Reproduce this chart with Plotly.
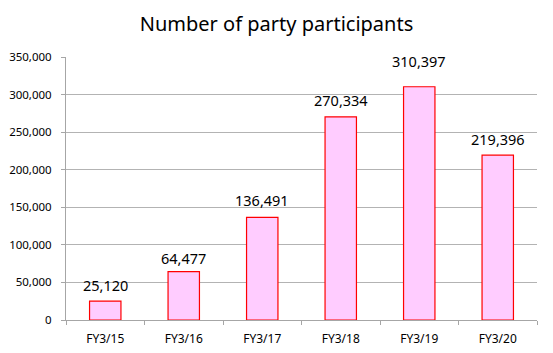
import plotly.graph_objects as go

categories = ["FY3/15", "FY3/16", "FY3/17", "FY3/18", "FY3/19", "FY3/20"]
participants = [25120, 64477, 136491, 270334, 310397, 219396]
tick_vals = [0, 50000, 100000, 150000, 200000, 250000, 300000, 350000]
tick_text = ["0", "50,000", "100,000", "150,000", "200,000", "250,000", "300,000", "350,000"]
# extra pixel lift of each value label above its bar (style)
label_lift = [4, 2, 5, 5, 14, 4]

fig = go.Figure(go.Bar(
    x=categories,
    y=participants,
    width=0.4,
    marker=dict(color="#ffccff", line=dict(color="#ff0000", width=1.2)),
    cliponaxis=False,
))

for c, v, lift in zip(categories, participants, label_lift):
    fig.add_annotation(
        x=c, y=v, text=f"{v:,}", showarrow=False,
        yanchor="bottom", yshift=lift,
        font=dict(family="Noto Sans", size=14.5, color="#000000"),
    )

fig.update_layout(
    width=553, height=353,
    margin=dict(l=66, r=16, t=57, b=33),
    paper_bgcolor="white", plot_bgcolor="white",
    title=dict(text="Number of party participants", x=0.5, xanchor="center", y=0.932, yanchor="middle",
               font=dict(family="Noto Sans", size=20, color="#000000")),
    showlegend=False,
    font=dict(family="Noto Sans", size=11.5, color="#000000"),
)
fig.update_xaxes(
    showline=True, linecolor="#a6a6a6", linewidth=1,
    ticks="outside", tickson="boundaries", ticklen=4, tickcolor="#a6a6a6",
    ticklabelstandoff=8, automargin=False,
    tickfont=dict(size=12),
    showgrid=False,
)
fig.update_yaxes(
    range=[0, 350000], tickvals=tick_vals, ticktext=tick_text,
    showline=True, linecolor="#a6a6a6", linewidth=1,
    ticks="outside", ticklen=4, tickcolor="#a6a6a6",
    ticklabelstandoff=7, automargin=False,
    showgrid=True, gridcolor="#b3b3b3", gridwidth=1,
    zeroline=False,
)

fig.write_html("out.html")
